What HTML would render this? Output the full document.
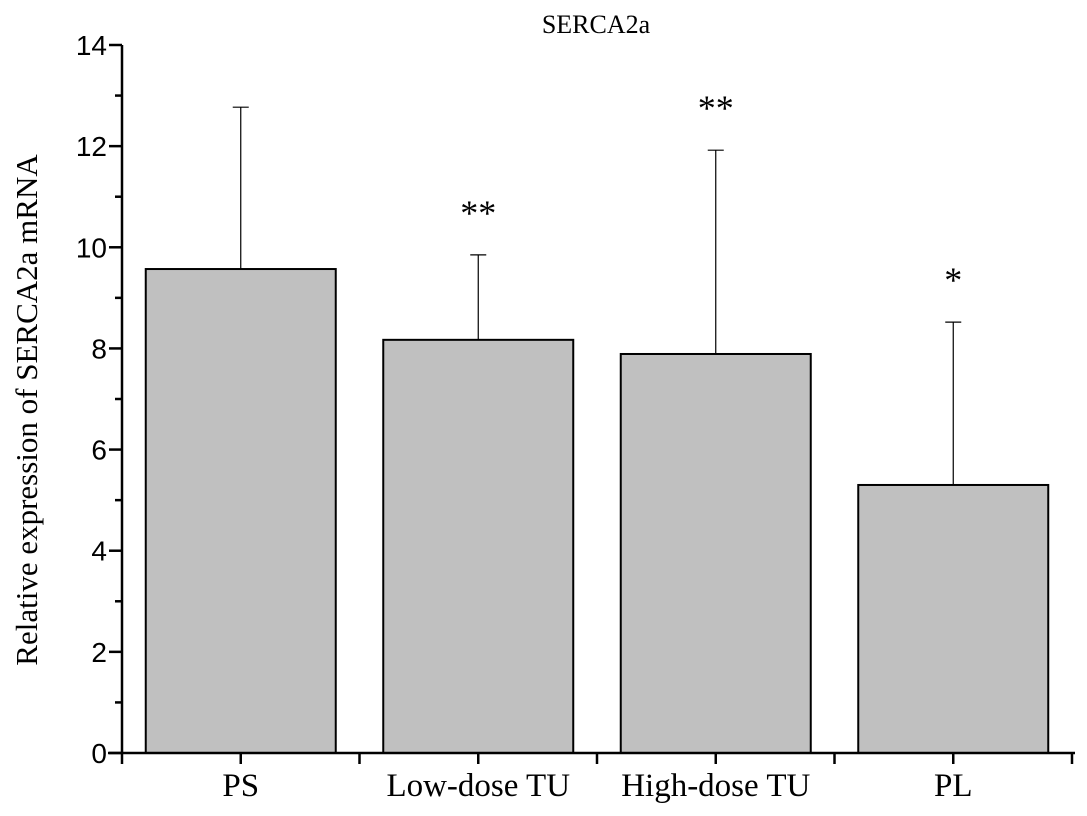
<!DOCTYPE html>
<html><head><meta charset="utf-8"><style>
body{margin:0;background:#fff;width:1087px;height:816px;overflow:hidden}
svg{display:block}
.serif{font-family:"Liberation Serif",serif}
.sans{font-family:"Liberation Sans",sans-serif}
</style></head><body>
<svg id="chart" width="1087" height="816">
<text class="serif" x="596" y="33" font-size="26" text-anchor="middle">SERCA2a</text>
<text class="serif" font-size="31" text-anchor="middle" transform="translate(37,410) rotate(-90)">Relative expression of SERCA2a mRNA</text>
<g id="plot"></g>
</svg>
<script>
const categories=["PS","Low-dose TU","High-dose TU","PL"];
const values=[9.57,8.17,7.89,5.30];
const errTops=[12.77,9.85,11.92,8.52];
const marks=["","**","**","*"];
const yTicks=[0,2,4,6,8,10,12,14];
const NS="http://www.w3.org/2000/svg";
const g=document.getElementById('plot');
const X0=122,Y0=753,YT=45,BW=237.5;
const y=v=>Y0-(v/14)*(Y0-YT);
const xc=i=>X0+BW*(i+0.5);
function el(t,a){const e=document.createElementNS(NS,t);for(const k in a)e.setAttribute(k,a[k]);g.appendChild(e);return e;}
categories.forEach((c,i)=>{
 const r=el('rect',{x:xc(i)-95,y:y(values[i]),width:190,height:Y0-y(values[i]),fill:'#c0c0c0',stroke:'#000','stroke-width':2});
 
 
 const l=el('line',{x1:xc(i),x2:xc(i),y1:y(values[i]),y2:y(errTops[i]),stroke:'#000','stroke-width':1.2});
 
 
 el('line',{x1:xc(i)-8,x2:xc(i)+8,y1:y(errTops[i]),y2:y(errTops[i]),stroke:'#000','stroke-width':1.2});
 if(marks[i]){const t=el('text',{x:xc(i),y:y(errTops[i])-30,'font-size':36,'text-anchor':'middle',class:'serif'});t.textContent=marks[i];
 
 }
 const t=el('text',{x:xc(i),y:796,'font-size':33,'text-anchor':'middle',class:'serif'});t.textContent=c;
 
 
 el('line',{x1:xc(i),x2:xc(i),y1:Y0,y2:Y0+11,stroke:'#000','stroke-width':2.5});
});
for(let i=0;i<=4;i++)el('line',{x1:X0+BW*i,x2:X0+BW*i,y1:Y0,y2:Y0+11,stroke:'#000','stroke-width':2.5});
const ax=el('line',{x1:108,x2:1075,y1:Y0,y2:Y0,stroke:'#000','stroke-width':2.5});


const ay=el('line',{x1:X0,x2:X0,y1:YT,y2:Y0,stroke:'#000','stroke-width':2.5});


yTicks.forEach(v=>{
 el('line',{x1:X0-13,x2:X0,y1:y(v),y2:y(v),stroke:'#000','stroke-width':2.5});
 if(v<14)el('line',{x1:X0-7,x2:X0,y1:y(v+1),y2:y(v+1),stroke:'#000','stroke-width':2.5});
 const t=el('text',{x:X0-15,y:y(v)+10,'font-size':28,'text-anchor':'end',class:'sans'});t.textContent=v;
 
 
});
</script>
</body></html>
